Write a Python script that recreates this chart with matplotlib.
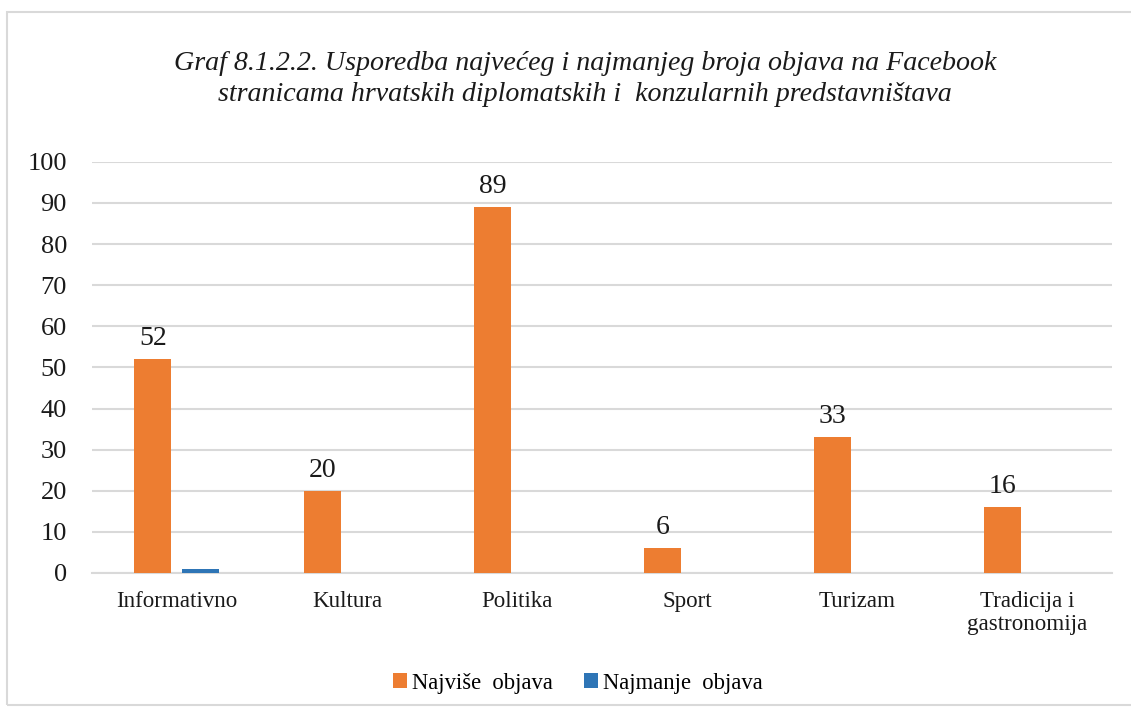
import numpy as np
import matplotlib.pyplot as plt
from matplotlib.patches import Rectangle

categories = ['Informativno', 'Kultura', 'Politika', 'Sport', 'Turizam', 'Tradicija i\ngastronomija']
most_posts = [52, 20, 89, 6, 33, 16]
least_posts = [1, 0, 0, 0, 0, 0]
series_names = ['Najviše  objava', 'Najmanje  objava']

plt.rcParams['font.family'] = ['Liberation Serif', 'DejaVu Serif']

fig = plt.figure(figsize=(11.31, 7.10), dpi=100)
ax = fig.add_axes([0.0813, 0.193, 0.9017, 0.579])

# outer chart border
fig.patches.append(Rectangle((0.006, 0.007), 1.2, 0.976, transform=fig.transFigure,
                             fill=False, edgecolor='#D9D9D9', linewidth=1.5))

x = np.arange(len(categories))
width = 0.218
offset = 0.141
bars = ax.bar(x - offset, most_posts, width, color='#ED7D31', label=series_names[0], zorder=3)
ax.bar(x + offset, least_posts, width, color='#2E75B6', label=series_names[1], zorder=3)

for rect, v in zip(bars, most_posts):
    ax.text(rect.get_x() + rect.get_width() / 2, v + 2, str(v), ha='center', va='bottom',
            fontsize=20, color='#1a1a1a')

ax.set_xlim(-0.5, len(categories) - 0.5)
ax.set_ylim(0, 100)
ax.set_yticks(np.arange(0, 101, 10))
ax.set_xticks(x)
ax.set_xticklabels(categories, fontsize=16.6, color='#1a1a1a', linespacing=1.1)
ax.tick_params(axis='y', labelsize=19, labelcolor='#1a1a1a', length=0, pad=18)
ax.tick_params(axis='x', length=0, pad=13)
ax.grid(axis='y', color='#D9D9D9', linewidth=1.5, zorder=0)
for side in ['top', 'right', 'left']:
    ax.spines[side].set_visible(False)
ax.spines['bottom'].set_color('#D9D9D9')
ax.spines['bottom'].set_linewidth(1.5)

fig.text(0.517, 0.889, 'Graf 8.1.2.2. Usporedba najvećeg i najmanjeg broja objava na Facebook\n'
         'stranicama hrvatskih diplomatskih i  konzularnih predstavništava',
         ha='center', va='center', fontsize=20.2, style='italic', color='#1a1a1a', linespacing=1.3)

fig.legend(loc='center', bbox_to_anchor=(0.511, 0.038), ncol=2, frameon=False, fontsize=16.3,
           handlelength=0.6, handleheight=0.6, handletextpad=0.22, columnspacing=1.4)

fig.savefig('out.png', dpi=100)
